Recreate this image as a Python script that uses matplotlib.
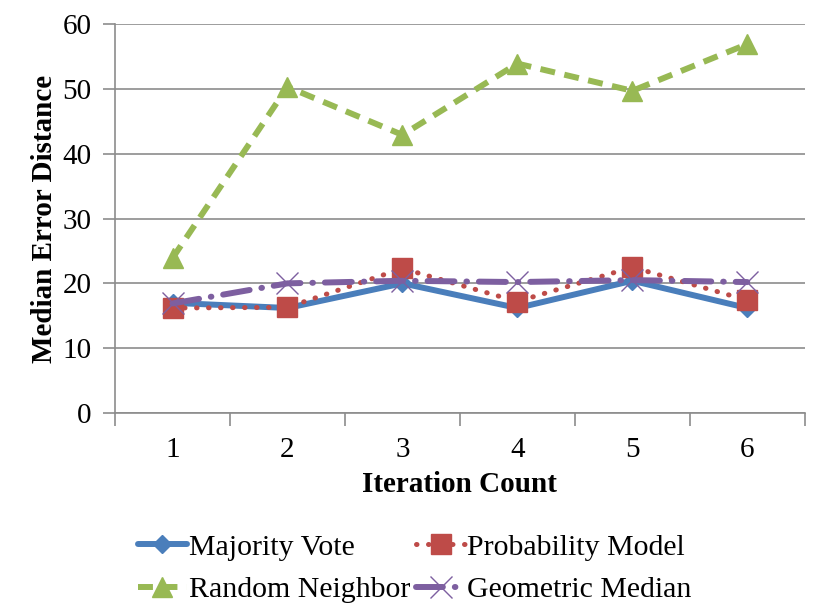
import numpy as np
import matplotlib
matplotlib.use("Agg")
import matplotlib.pyplot as plt
from matplotlib.ticker import FixedLocator

plt.rcParams["font.family"] = ["Liberation Serif", "DejaVu Serif"]

# ---------------- Data ----------------
iterations = [1, 2, 3, 4, 5, 6]
majority_vote = [17.0, 16.2, 20.0, 16.2, 20.4, 16.2]
probability_model = [16.2, 16.3, 22.3, 17.2, 22.5, 17.4]
random_neighbor = [23.9, 50.3, 42.9, 53.9, 49.7, 56.9]
geometric_median = [16.9, 20.0, 20.4, 20.2, 20.5, 20.2]
y_ticks = [0, 10, 20, 30, 40, 50, 60]

BLUE = "#4a7ebb"
RED = "#be4b48"
GREEN = "#98b954"
PURPLE = "#7d5fa0"
GRID = "#8c8c8c"
FS = 21
LEG_FS = 21.5

fig = plt.figure(figsize=(8.22, 6.16), dpi=100)
ax = fig.add_axes([0.140, 0.3295, 0.839, 0.6315])

h_mv, = ax.plot(iterations, majority_vote, color=BLUE, lw=4.3, marker="D", ms=9.5,
                label="Majority Vote", zorder=3, solid_capstyle="round")
h_pm, = ax.plot(iterations, probability_model, color=RED, lw=3.6, ls=(0, (0.1, 2.3)),
                dash_capstyle="round", marker="s", ms=14, label="Probability Model", zorder=4)
h_rn, = ax.plot(iterations, random_neighbor, color=GREEN, lw=4.3, ls=(0, (2.5, 1.6)),
                marker="^", ms=15, label="Random Neighbor", zorder=3)
h_gm, = ax.plot(iterations, geometric_median, color=PURPLE, lw=4.3,
                ls=(0, (4.5, 2.0, 0.1, 2.0)), dash_capstyle="round", marker="x", ms=16,
                mew=1.0, label="Geometric Median", zorder=5)

ax.set_xlim(0.5, 6.5)
ax.set_ylim(0, 60)
ax.set_yticks(y_ticks)
ax.set_xticks(iterations)
ax.xaxis.set_minor_locator(FixedLocator(np.arange(0.5, 6.6, 1.0)))
ax.tick_params(axis="x", which="major", length=0, pad=17, labelsize=FS)
ax.tick_params(axis="x", which="minor", length=9, width=1.2, color=GRID)
ax.tick_params(axis="y", length=9, width=1.2, color=GRID, pad=8, labelsize=FS)

ax.grid(axis="y", color=GRID, lw=1.2)
ax.set_axisbelow(True)
for s in ["top", "right"]:
    ax.spines[s].set_visible(False)
for s in ["left", "bottom"]:
    ax.spines[s].set_color(GRID)
    ax.spines[s].set_linewidth(1.2)

ax.set_xlabel("Iteration Count", fontsize=FS, fontweight="bold", labelpad=6)
ax.set_ylabel("Median Error Distance", fontsize=FS, fontweight="bold", labelpad=3)

# legend fills row by row in the reference
ax.legend([h_mv, h_rn, h_pm, h_gm],
          ["Majority Vote", "Random Neighbor", "Probability Model", "Geometric Median"],
          loc="upper left", bbox_to_anchor=(0.033, -0.31), ncol=2, frameon=False,
          fontsize=LEG_FS, handlelength=1.64, handletextpad=0.07, columnspacing=0.2,
          labelspacing=0.53, borderaxespad=0, borderpad=0)

fig.savefig("out.png", dpi=100)
